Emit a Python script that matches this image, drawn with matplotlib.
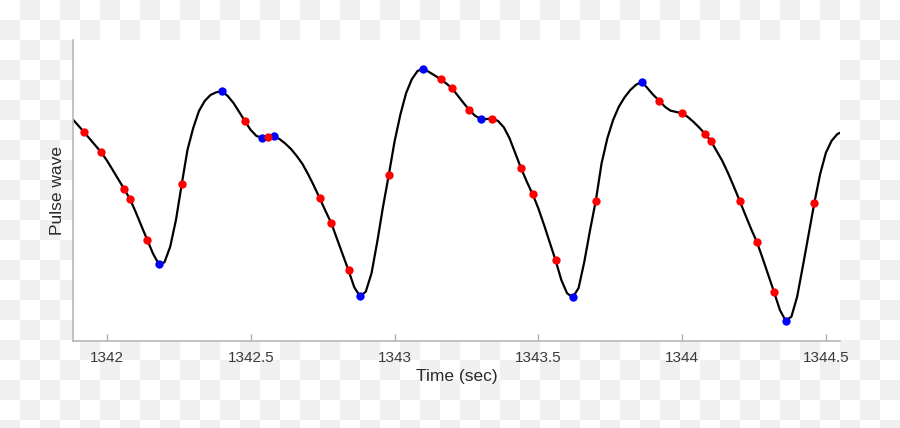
import numpy as np
import matplotlib
matplotlib.use('Agg')
import matplotlib.pyplot as plt

plt.rcParams['font.family'] = ['Liberation Sans', 'DejaVu Sans']

# pulse wave, sampled every 0.02 s starting at t0 (arbitrary units)
t0 = 1341.88
dt = 0.02
pulse = [
    222.0, 215.6, 209.0, 202.2, 195.5, 188.7,
    180.5, 171.0, 161.5, 152.0, 142.0, 129.0, 115.0, 101.3, 87.5, 77.0,
    78.7, 94.3, 121.0, 156.7, 191.0, 213.0, 230.0, 240.0, 246.0, 248.7,
    249.7, 245.0, 238.0, 229.0, 219.7, 211.0, 205.0, 203.3, 204.3, 204.7,
    202.0, 197.5, 192.0, 185.0, 177.0, 166.5, 155.0, 142.7, 130.0, 118.0,
    102.0, 86.3, 70.7, 53.7, 44.7, 49.3, 67.7, 99.3, 134.3, 166.0,
    199.3, 226.0, 247.7, 261.7, 270.0, 272.3, 269.0, 265.5, 262.0, 257.5,
    252.7, 245.3, 238.0, 231.0, 225.3, 222.0, 222.0, 222.5, 220.0, 213.7,
    202.7, 187.7, 172.7, 159.3, 147.0, 132.7, 116.0, 98.3, 80.7, 61.0,
    47.7, 43.7, 53.0, 79.3, 111.0, 140.5, 177.7, 202.7, 221.0, 234.3,
    243.7, 251.0, 256.3, 259.2, 252.7, 246.0, 240.5, 234.3, 230.3, 229.0,
    227.7, 224.0, 219.0, 213.3, 207.0, 200.0, 190.0, 180.0, 167.7, 154.3,
    140.3, 126.0, 112.0, 99.0, 82.7, 65.7, 48.7, 31.0, 20.3, 24.3,
    44.3, 75.0, 107.0, 138.5, 167.0, 188.3, 200.3, 207.0, 209.5,
]
time = t0 + np.arange(len(pulse)) * dt

red_times = [1341.92, 1341.98, 1342.06, 1342.08, 1342.14, 1342.26, 1342.48,
             1342.56, 1342.74, 1342.78, 1342.84, 1342.98, 1343.16, 1343.20,
             1343.26, 1343.34, 1343.44, 1343.48, 1343.56, 1343.70, 1343.92,
             1344.00, 1344.08, 1344.10, 1344.20, 1344.26, 1344.32, 1344.46]
blue_times = [1342.18, 1342.40, 1342.54, 1342.58, 1342.88, 1343.10, 1343.30,
              1343.62, 1343.86, 1344.36]

xticks = [1342, 1342.5, 1343, 1343.5, 1344, 1344.5]
xtick_labels = ['1342', '1342.5', '1343', '1343.5', '1344', '1344.5']


def idx(times):
    return np.round((np.array(times) - t0) / dt).astype(int)


W, H = 900, 428
fig = plt.figure(figsize=(W / 100, H / 100), dpi=100)
fig.patch.set_facecolor('white')

# checkerboard backdrop (transparent-image look)
rr, cc = np.mgrid[0:H, 0:W]
shade = np.where(((rr // 20) + (cc // 20)) % 2 == 1, 240, 255).astype(np.uint8)
bg = np.dstack([shade, shade, shade])
fig.figimage(bg, xo=0, yo=0, origin='upper', zorder=-1)

ax = fig.add_axes([73 / W, (H - 341) / H, (840 - 73) / W, (341 - 40) / H])
ax.set_facecolor('white')

pulse = np.array(pulse)
ax.plot(time, pulse, color='black', lw=1.6, zorder=2)
bi = idx(blue_times)
ri = idx(red_times)
ax.plot(time[bi], pulse[bi], 'o', color='#0000ff', ms=6, mec='none', zorder=3)
ax.plot(time[ri], pulse[ri], 'o', color='#ff0000', ms=6, mec='none', zorder=3)

ax.set_xlim(1341.882, 1344.549)
ax.set_ylim(0, 301)
ax.set_xticks(xticks)
ax.set_xticklabels(xtick_labels)
ax.set_yticks([])
ax.tick_params(axis='x', direction='in', length=5, width=1, color='#b0b0b0',
               labelsize=11, labelcolor='#3a3a3a', pad=7)
for side in ['top', 'right']:
    ax.spines[side].set_visible(False)
for side in ['left', 'bottom']:
    ax.spines[side].set_color('#b8b8b8')
    ax.spines[side].set_linewidth(1.2)

ax.set_xlabel('Time (sec)', fontsize=12.5, color='#2a2a2a', labelpad=3)
ax.set_ylabel('Pulse wave', fontsize=12.5, color='#2a2a2a', labelpad=6)

fig.savefig('out.png', dpi=100)
